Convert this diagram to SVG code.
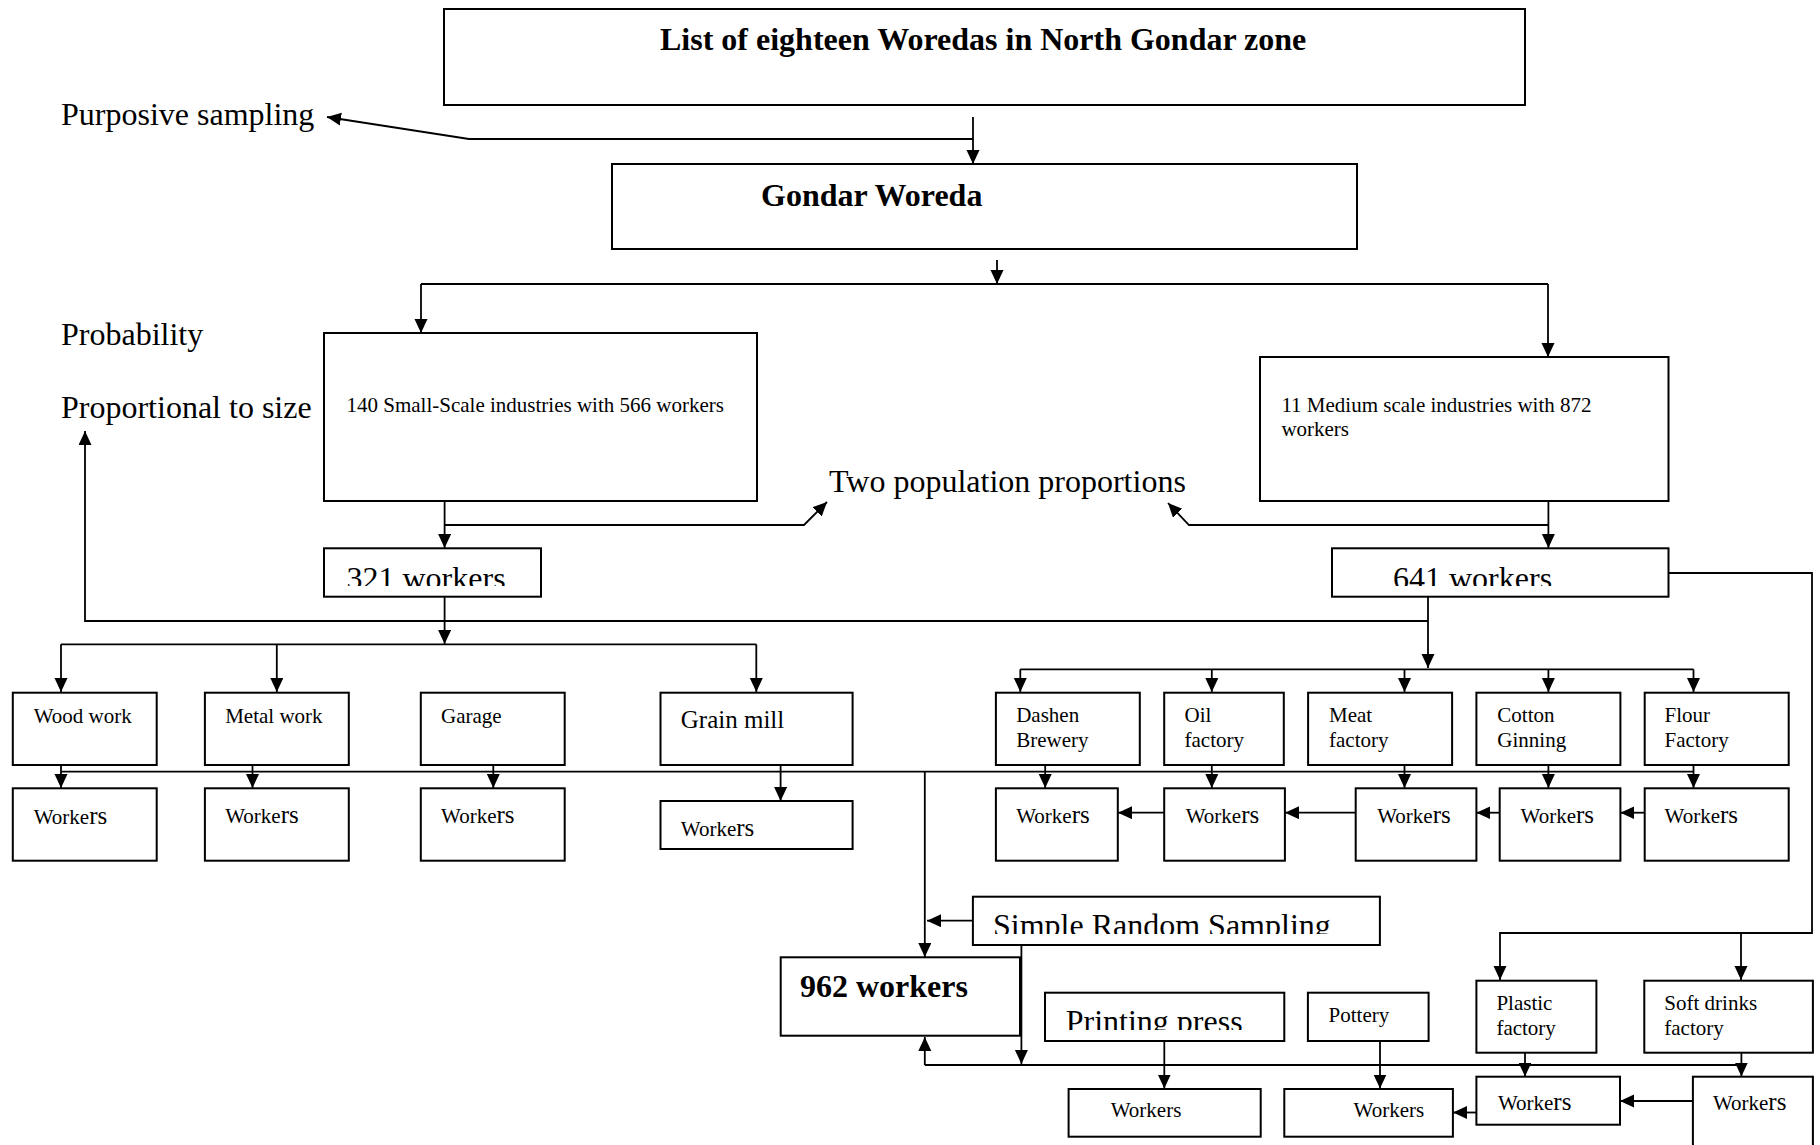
<svg xmlns="http://www.w3.org/2000/svg" width="1820" height="1145" viewBox="0 0 1820 1145">
<style>
text{font-family:"Liberation Serif","Times New Roman",serif;fill:#000}
.t32{font-size:32px}
.b32{font-size:32px;font-weight:bold}
.t21{font-size:21px}
.t25{font-size:25px}
.box rect{fill:#fff;stroke:#000;stroke-width:2}
.c path{fill:none;stroke:#000;stroke-width:1.8}
.rs{font-size:25px}
</style>
<defs>
<marker id="ah" markerUnits="userSpaceOnUse" markerWidth="15" markerHeight="14" refX="14" refY="6.5" orient="auto">
<path d="M0,0 L14,6.5 L0,13 Z" fill="#000"/>
</marker>
<clipPath id="c321"><rect x="325" y="549" width="215" height="37"/></clipPath>
<clipPath id="c641"><rect x="1333" y="549" width="334" height="37"/></clipPath>
<clipPath id="csrs"><rect x="974" y="898" width="405" height="36"/></clipPath>
<clipPath id="cpp"><rect x="1046" y="994" width="237" height="36"/></clipPath>
</defs>
<rect width="1820" height="1145" fill="#fff"/>

<g id="labels">
<text class="t32" x="61" y="125">Purposive sampling</text>
<text class="t32" x="61" y="345">Probability</text>
<text class="t32" x="61" y="418">Proportional to size</text>
<text class="t32" x="829" y="492">Two population proportions</text>
</g>

<g class="c" id="connectors">
<path d="M973,117 V164" marker-end="url(#ah)"/>
<path d="M973,139 H469 L327,117" marker-end="url(#ah)"/>
<path d="M997,260 V284" marker-end="url(#ah)"/>
<path d="M421,284 H1548"/>
<path d="M421,284 V333" marker-end="url(#ah)"/>
<path d="M1548,284 V357" marker-end="url(#ah)"/>
<path d="M444.6,501 V548" marker-end="url(#ah)"/>
<path d="M444.6,525 H804 L827,502" marker-end="url(#ah)"/>
<path d="M1548.4,501 V548" marker-end="url(#ah)"/>
<path d="M1548.4,525 H1189 L1168,503" marker-end="url(#ah)"/>
<path d="M1668.5,573 H1812 V933 H1500 V980" marker-end="url(#ah)"/>
<path d="M1741,933 V980" marker-end="url(#ah)"/>
<path d="M1428,597 V668" marker-end="url(#ah)"/>
<path d="M1428,621 H85 V431" marker-end="url(#ah)"/>
<path d="M444.6,597 V644" marker-end="url(#ah)"/>
<path d="M61,644.3 H756.3"/>
<path d="M61,644.3 V692" marker-end="url(#ah)"/>
<path d="M276.8,644.3 V692" marker-end="url(#ah)"/>
<path d="M756.3,644.3 V692" marker-end="url(#ah)"/>
<path d="M1020.3,669.3 H1693.5"/>
<path d="M1020.3,669.3 V692" marker-end="url(#ah)"/>
<path d="M1211.8,669.3 V692" marker-end="url(#ah)"/>
<path d="M1404.5,669.3 V692" marker-end="url(#ah)"/>
<path d="M1548.4,669.3 V692" marker-end="url(#ah)"/>
<path d="M1693.5,669.3 V692" marker-end="url(#ah)"/>
<path d="M61,771.7 H1693.5"/>
<path d="M61,765 V788" marker-end="url(#ah)"/>
<path d="M252.5,765 V788" marker-end="url(#ah)"/>
<path d="M493.3,765 V788" marker-end="url(#ah)"/>
<path d="M780.6,765 V801" marker-end="url(#ah)"/>
<path d="M1045.2,765 V788" marker-end="url(#ah)"/>
<path d="M1211.8,765 V788" marker-end="url(#ah)"/>
<path d="M1404.5,765 V788" marker-end="url(#ah)"/>
<path d="M1548.4,765 V788" marker-end="url(#ah)"/>
<path d="M1693.5,765 V788" marker-end="url(#ah)"/>
<path d="M1164.2,812.7 H1118" marker-end="url(#ah)"/>
<path d="M1355.7,812.7 H1285" marker-end="url(#ah)"/>
<path d="M1499.7,812.7 H1476.4" marker-end="url(#ah)"/>
<path d="M1644.7,812.7 H1620.4" marker-end="url(#ah)"/>
<path d="M924.8,771.7 V957" marker-end="url(#ah)"/>
<path d="M973,920.7 H927" marker-end="url(#ah)"/>
<path d="M1021.4,945 V1064" marker-end="url(#ah)"/>
<path d="M924.8,1065 H1741.4"/>
<path d="M924.8,1065 V1037" marker-end="url(#ah)"/>
<path d="M1164.3,1041 V1088.5" marker-end="url(#ah)"/>
<path d="M1380,1041 V1088.5" marker-end="url(#ah)"/>
<path d="M1525,1052.7 V1076.5" marker-end="url(#ah)"/>
<path d="M1741.4,1052.7 V1076.5" marker-end="url(#ah)"/>
<path d="M1476.4,1112.5 H1453" marker-end="url(#ah)"/>
<path d="M1692.9,1101 H1620" marker-end="url(#ah)"/>
</g>

<g class="box" id="n-list"><rect x="444" y="9" width="1081" height="96"/><text class="b32" x="660" y="50">List of eighteen Woredas in North Gondar zone</text></g>
<g class="box" id="n-gondar"><rect x="612" y="164" width="745" height="85"/><text class="b32" x="761" y="206">Gondar Woreda</text></g>
<g class="box" id="n-small"><rect x="324" y="333" width="433" height="168"/><text class="t21" x="346.5" y="412">140 Small-Scale industries with 566 workers</text></g>
<g class="box" id="n-medium"><rect x="1260" y="357" width="408.5" height="144"/><text class="t21" x="1281.4" y="411.7">11 Medium scale industries with 872</text><text class="t21" x="1281.4" y="436">workers</text></g>
<g class="box" id="n-321"><rect x="324" y="548.3" width="217" height="48.4"/><text class="t32" x="346.5" y="588.5" clip-path="url(#c321)">321 workers</text></g>
<g class="box" id="n-641"><rect x="1332" y="548.3" width="336.5" height="48.4"/><text class="t32" x="1393" y="588.5" clip-path="url(#c641)">641 workers</text></g>

<g class="box" id="n-wood"><rect x="12.8" y="692.7" width="143.9" height="72.3"/><text class="t21" x="33.7" y="723.3">Wood work</text></g>
<g class="box" id="n-metal"><rect x="204.9" y="692.7" width="143.9" height="72.3"/><text class="t21" x="225.2" y="723.3">Metal work</text></g>
<g class="box" id="n-garage"><rect x="420.8" y="692.7" width="143.9" height="72.3"/><text class="t21" x="441" y="723.3">Garage</text></g>
<g class="box" id="n-grain"><rect x="660.5" y="692.7" width="192.1" height="72.3"/><text class="t25" x="680.8" y="728.3">Grain mill</text></g>
<g class="box" id="n-dashen"><rect x="995.9" y="692.7" width="143.9" height="72.3"/><text class="t21" x="1016.2" y="721.7">Dashen</text><text class="t21" x="1016.2" y="746.7">Brewery</text></g>
<g class="box" id="n-oil"><rect x="1164.2" y="692.7" width="119.6" height="72.3"/><text class="t21" x="1184.5" y="721.7">Oil</text><text class="t21" x="1184.5" y="746.7">factory</text></g>
<g class="box" id="n-meat"><rect x="1308.1" y="692.7" width="144" height="72.3"/><text class="t21" x="1329" y="721.7">Meat</text><text class="t21" x="1329" y="746.7">factory</text></g>
<g class="box" id="n-cotton"><rect x="1476.4" y="692.7" width="144" height="72.3"/><text class="t21" x="1497.3" y="721.7">Cotton</text><text class="t21" x="1497.3" y="746.7">Ginning</text></g>
<g class="box" id="n-flour"><rect x="1644.7" y="692.7" width="144" height="72.3"/><text class="t21" x="1664.5" y="721.7">Flour</text><text class="t21" x="1664.5" y="746.7">Factory</text></g>

<g class="box" id="n-w-wood"><rect x="12.8" y="788.3" width="143.9" height="72.4"/><text class="t21" x="33.7" y="824">Worke<tspan class="rs">rs</tspan></text></g>
<g class="box" id="n-w-metal"><rect x="204.9" y="788.3" width="143.9" height="72.4"/><text class="t21" x="225.2" y="823.3">Worke<tspan class="rs">rs</tspan></text></g>
<g class="box" id="n-w-garage"><rect x="420.8" y="788.3" width="143.9" height="72.4"/><text class="t21" x="441" y="823.3">Worke<tspan class="rs">rs</tspan></text></g>
<g class="box" id="n-w-grain"><rect x="660.5" y="801" width="192.1" height="48"/><text class="t21" x="680.8" y="836">Worke<tspan class="rs">rs</tspan></text></g>
<g class="box" id="n-w-dashen"><rect x="995.9" y="788.3" width="121.9" height="72.4"/><text class="t21" x="1016.2" y="823.3">Worke<tspan class="rs">rs</tspan></text></g>
<g class="box" id="n-w-oil"><rect x="1164.2" y="788.3" width="120.7" height="72.4"/><text class="t21" x="1185.7" y="823.3">Worke<tspan class="rs">rs</tspan></text></g>
<g class="box" id="n-w-meat"><rect x="1355.7" y="788.3" width="120.7" height="72.4"/><text class="t21" x="1377.2" y="823.3">Worke<tspan class="rs">rs</tspan></text></g>
<g class="box" id="n-w-cotton"><rect x="1499.7" y="788.3" width="120.7" height="72.4"/><text class="t21" x="1520.6" y="823.3">Worke<tspan class="rs">rs</tspan></text></g>
<g class="box" id="n-w-flour"><rect x="1644.7" y="788.3" width="144" height="72.4"/><text class="t21" x="1664.5" y="823.3">Worke<tspan class="rs">rs</tspan></text></g>

<g class="box" id="n-srs"><rect x="972.9" y="896.7" width="407" height="48.3"/><text class="t32" x="993" y="936" clip-path="url(#csrs)">Simple Random Sampling</text></g>
<g class="box" id="n-962"><rect x="780.7" y="957.3" width="239.3" height="78.4"/><text class="b32" x="800" y="996.7">962 workers</text></g>
<g class="box" id="n-printing"><rect x="1045" y="992.7" width="239.3" height="48.3"/><text class="t32" x="1065.7" y="1031.5" clip-path="url(#cpp)">Printing press</text></g>
<g class="box" id="n-pottery"><rect x="1307.9" y="992.7" width="120.7" height="48.3"/><text class="t21" x="1328.6" y="1021.7">Pottery</text></g>
<g class="box" id="n-plastic"><rect x="1476.4" y="980.7" width="120" height="72"/><text class="t21" x="1496.4" y="1010">Plastic</text><text class="t21" x="1496.4" y="1035">factory</text></g>
<g class="box" id="n-soft"><rect x="1644.3" y="980.7" width="168.6" height="72"/><text class="t21" x="1664.3" y="1010">Soft drinks</text><text class="t21" x="1664.3" y="1035">factory</text></g>
<g class="box" id="n-w-printing"><rect x="1068.6" y="1089" width="192.1" height="47.7"/><text class="t21" x="1110.7" y="1116.7">Workers</text></g>
<g class="box" id="n-w-pottery"><rect x="1284.3" y="1089" width="168.6" height="47.7"/><text class="t21" x="1353.6" y="1116.7">Workers</text></g>
<g class="box" id="n-w-plastic"><rect x="1476.4" y="1076.7" width="143.6" height="48"/><text class="t21" x="1497.9" y="1110">Worke<tspan class="rs">rs</tspan></text></g>
<g class="box" id="n-w-soft"><rect x="1692.9" y="1076.7" width="120" height="80"/><text class="t21" x="1712.9" y="1110">Worke<tspan class="rs">rs</tspan></text></g>
</svg>
